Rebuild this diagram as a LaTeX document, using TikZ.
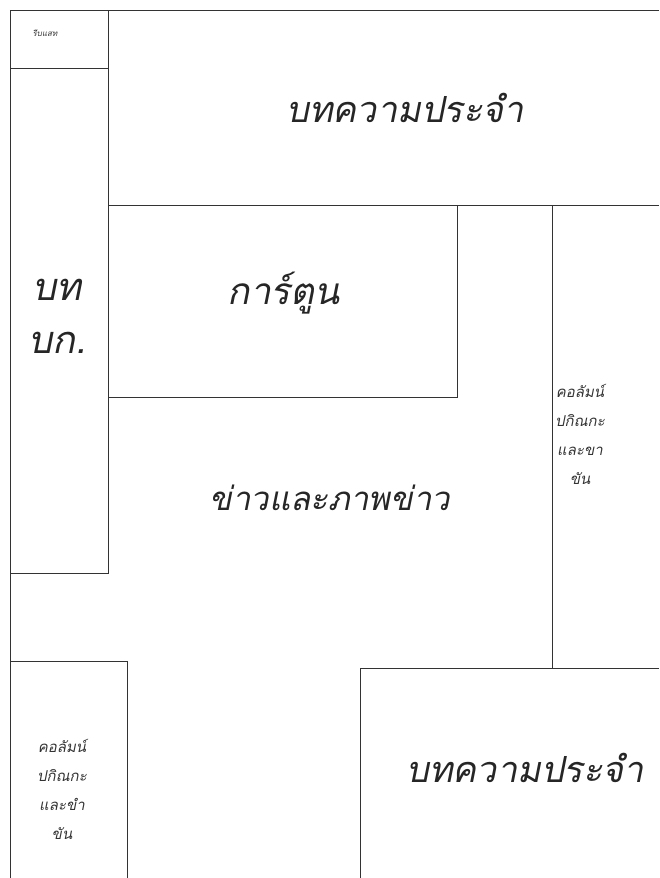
\documentclass[tikz,border=0pt]{standalone}
\usepackage{fontspec}
\newfontfamily\thaifont[Script=Thai,FakeSlant=0.2]{Loma}
\usetikzlibrary{positioning}

\begin{document}
\begin{tikzpicture}[
  x=1pt,y=-1pt,
  rule/.style={line width=1pt,draw=black!80},
  headline/.style={font=\thaifont\fontsize{36}{40}\selectfont,text=black!85},
  boxtitle/.style={font=\thaifont\fontsize{33}{36}\selectfont,text=black!85},
  column/.style={font=\thaifont\fontsize{15}{29}\selectfont,align=center,text=black!80},
  tag/.style={font=\thaifont\fontsize{8}{10}\selectfont,text=black!80}
]
\useasboundingbox (0,0) rectangle (659,878);
% page frame
\draw[rule] (659,10) -- (10,10) -- (10,878);
% masthead and editorial
\draw[rule] (10,68) -- (108,68);
\draw[rule] (108,10) -- (108,573) -- (10,573);
% regular article, top
\draw[rule] (108,205) -- (659,205);
% cartoon
\draw[rule] (108,397) -- (457,397) -- (457,205);
% right column
\draw[rule] (552,205) -- (552,668);
% regular article, bottom
\draw[rule] (659,668) -- (360,668) -- (360,878);
% bottom left column
\draw[rule] (10,661) -- (127,661) -- (127,878);

\node[tag] (mast) at (45,33) {รีบแสท};
\node[headline] (toparticle) at (405,108) {บทความประจำ};
\node[boxtitle,font=\thaifont\fontsize{38}{40}\selectfont] (edit1) at (57,290) {บท};
\node[boxtitle,font=\thaifont\fontsize{38}{40}\selectfont] (edit2) at (57,343) {บก.};
\node[boxtitle,font=\thaifont\fontsize{37}{40}\selectfont] (cartoon) at (284,293) {การ์ตูน};
\node[boxtitle] (news) at (330,498) {ข่าวและภาพข่าว};
\node[column] (rightcol) at (580,434) {คอลัมน์\\ปกิณกะ\\และขา\\ขัน};
\node[column] (leftcol) at (62,789) {คอลัมน์\\ปกิณกะ\\และขำ\\ขัน};
\node[headline] (botarticle) at (525,768) {บทความประจำ};
\end{tikzpicture}
\end{document}
